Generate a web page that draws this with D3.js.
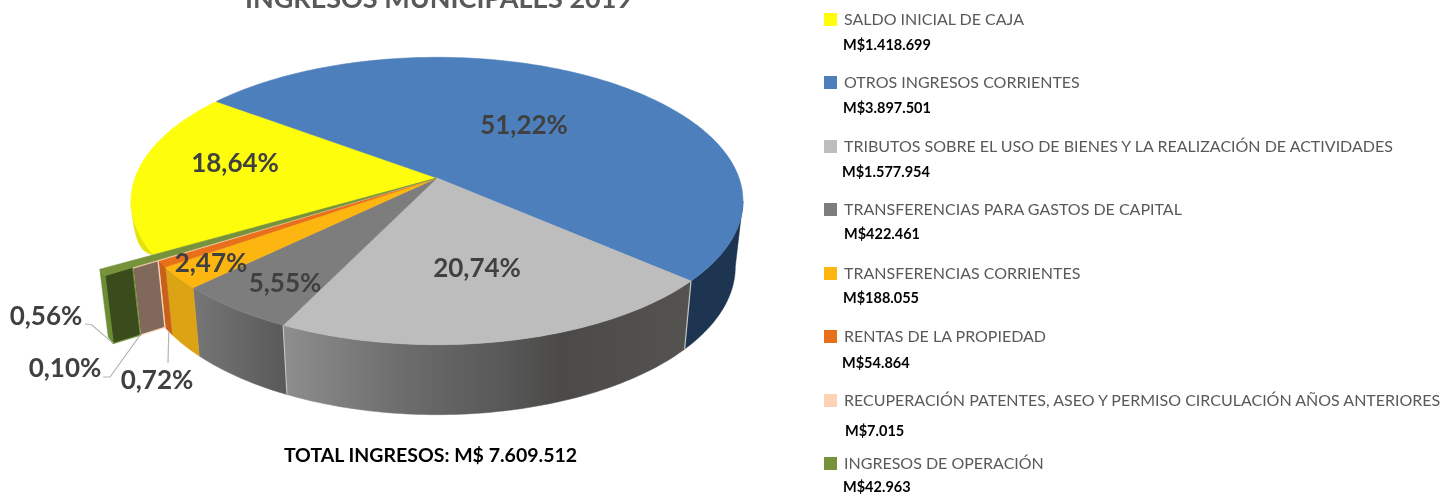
<!DOCTYPE html>
<html>
<head>
<meta charset="utf-8">
<title>Ingresos municipales 2019</title>
<script src="https://cdn.jsdelivr.net/npm/d3@7"></script>
<style>
    html, body { margin: 0; background: #fff; overflow: hidden; }
    svg { display: block; font-family: Lato, "Open Sans", sans-serif; filter: blur(0.4px); }
</style>
</head>
<body>
<svg width="1448" height="494"></svg>
<script>
// values in M$, pie order is clockwise from the yellow slice
const categories = [
    "SALDO INICIAL DE CAJA",
    "OTROS INGRESOS CORRIENTES",
    "TRIBUTOS SOBRE EL USO DE BIENES Y LA REALIZACIÓN DE ACTIVIDADES",
    "TRANSFERENCIAS PARA GASTOS DE CAPITAL",
    "TRANSFERENCIAS CORRIENTES",
    "RENTAS DE LA PROPIEDAD",
    "RECUPERACIÓN PATENTES, ASEO Y PERMISO CIRCULACIÓN AÑOS ANTERIORES",
    "INGRESOS DE OPERACIÓN"
];
const values = [1418699, 3897501, 1577954, 422461, 188055, 54864, 7015, 42963];
const percentLabels = ["18,64%", "51,22%", "20,74%", "5,55%", "2,47%", "0,72%", "0,10%", "0,56%"];

const topColors = ["#fdfd0c", "#4c7fbc", "#bdbdbd", "#7d7d7d", "#fdb50f", "#e8701a", "#fdd2b5", "#76933c"];
const sideColors = ["#e3e30a", "#1d3550", "url(#sideGray)", "url(#sideDark)", "#dca414", "#c9601a", "#c9a890", "#6b8e35"];
// the last two slices stick out of the disc
const outerR = [1, 1, 1, 1, 1, 1, 1.082, 1.171];
const wallColors = [null, null, null, null, null, null, "#80695a", "#3a4b1c"];
const wallEdges = [null, null, null, null, null, null, "#fdd2b5", "#6b8e35"];

const labelX = [235, 524, 477, 285, 211, 157, 65, 46];
const labelY = [163, 125, 268, 283, 263, 380, 368, 316];

const legendLabelY = [19, 82, 146, 209, 273, 336, 400, 463];
const legendValueY = [45, 108, 172, 234, 298, 363, 431, 486.5];
const legendValueX = [843, 843, 842, 844, 843, 842, 845, 843];

const svg = d3.select("svg");
const deg = Math.PI / 180;

// perspective disc
const cx = 437, cy = 178, rx = 302, ry = 140, persp = 0.16;
const depthY = 243, depthSx = 0.975, depthSy = 1.03;

function topPt(a, r) {
    const u = r * Math.sin(a), v = r * Math.cos(a), w = 1 + persp * v;
    return [cx + rx * u / w, cy - ry * v / w];
}

function bottomPt(a, r, f = 1) {
    const p = topPt(a, r);
    return [
        p[0] + f * (cx + (p[0] - cx) * depthSx - p[0]),
        p[1] + f * (depthY + (p[1] - cy) * depthSy - p[1])
    ];
}

function arcAngles(a0, a1) {
    const n = Math.max(2, Math.ceil((a1 - a0) / deg));
    return d3.range(n + 1).map(i => a0 + (a1 - a0) * i / n);
}

const line = d3.line();
const closed = pts => line(pts) + "Z";

const arcs = d3.pie().sort(null).startAngle(239.7 * deg).endAngle((239.7 + 360) * deg)(values);

const defs = svg.append("defs");
function gradient(id, x1, x2, stops) {
    const g = defs.append("linearGradient").attr("id", id)
        .attr("gradientUnits", "userSpaceOnUse")
        .attr("x1", x1).attr("x2", x2).attr("y1", 0).attr("y2", 0);
    stops.forEach(s => g.append("stop").attr("offset", s[0]).attr("stop-color", s[1]));
}
gradient("sideGray", topPt(arcs[2].endAngle, 1)[0], topPt(arcs[2].startAngle, 1)[0],
    [[0, "#8e8e8e"], [0.3, "#6c6c6c"], [0.55, "#575757"], [0.68, "#4b4a48"], [1, "#545350"]]);
gradient("sideDark", topPt(arcs[3].endAngle, 1)[0], topPt(arcs[3].startAngle, 1)[0],
    [[0, "#767676"], [1, "#5a5a5a"]]);

// only the front part of the rim can be seen
const tangent = Math.asin(persp);
const visibleFrom = Math.PI / 2 + tangent, visibleTo = 1.5 * Math.PI - tangent;

const sides = [];
arcs.forEach((d, i) => {
    [0, 2 * Math.PI].forEach(shift => {
        const lo = Math.max(d.startAngle, visibleFrom + shift);
        const hi = Math.min(d.endAngle, visibleTo + shift);
        if (lo < hi) sides.push({ i, lo, hi });
    });
});

const gSides = svg.append("g");
gSides.selectAll("path")
    .data(sides)
    .enter()
    .append("path")
    .attr("d", d => {
        const as = arcAngles(d.lo, d.hi);
        const r = outerR[d.i];
        // yellow rim only shows as a thin sliver beside the cut
        const f = d.i === 0
            ? as.map(a => 0.2 * Math.sin(Math.PI * (a - d.lo) / (d.hi - d.lo)) + 0.001)
            : as.map(() => 1);
        return closed(as.map(a => topPt(a, r)).concat(as.map((a, j) => bottomPt(a, r, f[j])).reverse()));
    })
    .attr("fill", d => sideColors[d.i])
    .attr("stroke", d => sideColors[d.i])
    .attr("stroke-width", 0.5);

// light seams on the gray rim
svg.append("g").selectAll("path")
    .data([arcs[2].startAngle, arcs[2].endAngle])
    .enter()
    .append("path")
    .attr("d", a => line([topPt(a, 1), bottomPt(a, 1)]))
    .attr("stroke", "#c4c4c4")
    .attr("stroke-width", 1.2)
    .attr("fill", "none");

// radial cut faces of the slices that stick out
const walls = arcs.map((d, i) => ({ d, i })).filter(w => wallColors[w.i]);
const wallAngle = arcs[7].startAngle;
svg.append("g").selectAll("path")
    .data(walls)
    .enter()
    .append("path")
    .attr("d", w => {
        const r0 = outerR[w.i - 1], r1 = outerR[w.i];
        return closed([topPt(wallAngle, r0), topPt(wallAngle, r1), bottomPt(wallAngle, r1), bottomPt(wallAngle, r0)]);
    })
    .attr("fill", w => wallColors[w.i])
    .attr("stroke", w => wallEdges[w.i])
    .attr("stroke-width", 1.2);

// top faces
svg.append("g").selectAll("path")
    .data(arcs)
    .enter()
    .append("path")
    .attr("d", (d, i) => closed([[cx, cy]].concat(arcAngles(d.startAngle, d.endAngle).map(a => topPt(a, outerR[i])))))
    .attr("fill", (d, i) => topColors[i])
    .attr("stroke", (d, i) => topColors[i])
    .attr("stroke-width", 0.6);

// leader lines for the outside labels
const leaders = [
    [[85, 324], [92, 325], bottomPt(wallAngle, outerR[7])],
    [[103, 377], [110, 377], bottomPt(wallAngle, outerR[6])],
    [[168, 363], bottomPt((arcs[5].startAngle + arcs[5].endAngle) / 2, outerR[5])]
];
svg.append("g").selectAll("path")
    .data(leaders)
    .enter()
    .append("path")
    .attr("d", d => line(d))
    .attr("fill", "none")
    .attr("stroke", "#b5b5b5")
    .attr("stroke-width", 1.2);

svg.append("g").selectAll("text")
    .data(percentLabels)
    .enter()
    .append("text")
    .attr("x", (d, i) => labelX[i])
    .attr("y", (d, i) => labelY[i])
    .attr("dy", "0.36em")
    .attr("text-anchor", "middle")
    .attr("font-size", 26)
    .attr("font-weight", 700)
    .attr("fill", "#404040")
    .text(d => d);

svg.append("text")
    .attr("x", 438.5)
    .attr("y", 8)
    .attr("text-anchor", "middle")
    .attr("font-size", 27)
    .attr("font-weight", 700)
    .attr("fill", "#595959")
    .text("INGRESOS MUNICIPALES 2019");

const moneyFormat = d3.formatLocale({ decimal: ",", thousands: ".", grouping: [3], currency: ["M$", ""] }).format("$,");

svg.append("text")
    .attr("x", 430.5)
    .attr("y", 455)
    .attr("dy", "0.36em")
    .attr("text-anchor", "middle")
    .attr("font-size", 19.5)
    .attr("font-weight", 700)
    .attr("fill", "#000")
    .text("TOTAL INGRESOS: " + moneyFormat(d3.sum(values)).replace("M$", "M$ "));

// legend
const legend = svg.append("g").selectAll("g")
    .data(categories)
    .enter()
    .append("g");

legend.append("rect")
    .attr("x", 824)
    .attr("y", (d, i) => legendLabelY[i] - 6)
    .attr("width", 13)
    .attr("height", 13)
    .attr("fill", (d, i) => topColors[i]);

legend.append("text")
    .attr("x", 844)
    .attr("y", (d, i) => legendLabelY[i])
    .attr("dy", "0.36em")
    .attr("font-size", 16)
    .attr("fill", "#595959")
    .text(d => d);

legend.append("text")
    .attr("x", (d, i) => legendValueX[i])
    .attr("y", (d, i) => legendValueY[i])
    .attr("dy", "0.36em")
    .attr("font-size", 14.5)
    .attr("font-weight", 700)
    .attr("fill", "#000")
    .text((d, i) => moneyFormat(values[i]));
</script>
</body>
</html>
